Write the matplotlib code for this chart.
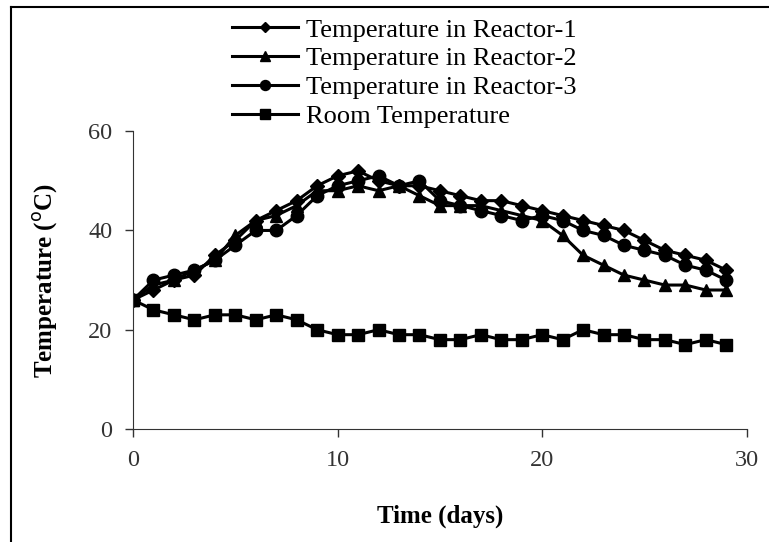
import numpy as np
import matplotlib.pyplot as plt
from matplotlib.lines import Line2D

plt.rcParams['font.family'] = ['Liberation Serif', 'DejaVu Serif']

days = list(range(30))
reactor1 = [26, 28, 30, 31, 35, 38, 42, 44, 46, 49, 51, 52, 50, 49, 49,
            48, 47, 46, 46, 45, 44, 43, 42, 41, 40, 38, 36, 35, 34, 32]
reactor2 = [26, 29, 30, 32, 34, 39, 42, 43, 45, 48, 48, 49, 48, 49, 47,
            45, 45, 45, 44, 43, 42, 39, 35, 33, 31, 30, 29, 29, 28, 28]
reactor3 = [26, 30, 31, 32, 34, 37, 40, 40, 43, 47, 49, 50, 51, 49, 50,
            46, 45, 44, 43, 42, 43, 42, 40, 39, 37, 36, 35, 33, 32, 30]
room = [26, 24, 23, 22, 23, 23, 22, 23, 22, 20, 19, 19, 20, 19, 19,
        18, 18, 19, 18, 18, 19, 18, 20, 19, 19, 18, 18, 17, 18, 17]

labels = ["Temperature in Reactor-1", "Temperature in Reactor-2",
          "Temperature in Reactor-3", "Room Temperature"]

fig = plt.figure(figsize=(7.69, 5.42), dpi=100)
ax = fig.add_axes([0.173, 0.2085, 0.798, 0.5495])

ax.plot(days, reactor1, 'k-', marker='D', ms=7, lw=2.2, label=labels[0])
ax.plot(days, reactor2, 'k-', marker='^', ms=9, lw=2.2, label=labels[1])
ax.plot(days, reactor3, 'k-', marker='o', ms=9, lw=2.2, label=labels[2])
ax.plot(days, room, 'k-', marker='s', ms=9, lw=2.2, label=labels[3])

ax.set_xlim(0, 30)
ax.set_ylim(0, 60)
ax.set_xticks([0, 10, 20, 30])
ax.set_yticks([0, 20, 40, 60])
ax.spines['top'].set_visible(False)
ax.spines['right'].set_visible(False)
ax.tick_params(direction='out', length=6, width=1, labelsize=17.5, pad=9,
               colors='#333333', labelcolor='#333333')
for s in ['left', 'bottom']:
    ax.spines[s].set_color('#333333')

ax.set_xlabel("Time (days)", fontsize=18, fontweight='bold', labelpad=24)
ax.set_ylabel("Temperature ($^{\\rm o}$C)", fontsize=18, fontweight='bold', labelpad=20)

fig.legend(loc='upper left', bbox_to_anchor=(0.288, 0.986), frameon=False,
           fontsize=19, handlelength=2.5, handletextpad=0.3, labelspacing=0.2,
           markerscale=0.8, borderaxespad=0)

# frame lines at the left and top of the figure
fig.add_artist(Line2D([11 / 769, 11 / 769], [0, 1 - 7 / 542], color='k', lw=1.5))
fig.add_artist(Line2D([11 / 769, 1], [1 - 7 / 542, 1 - 7 / 542], color='k', lw=1.5))

fig.savefig("out.png", dpi=100)
